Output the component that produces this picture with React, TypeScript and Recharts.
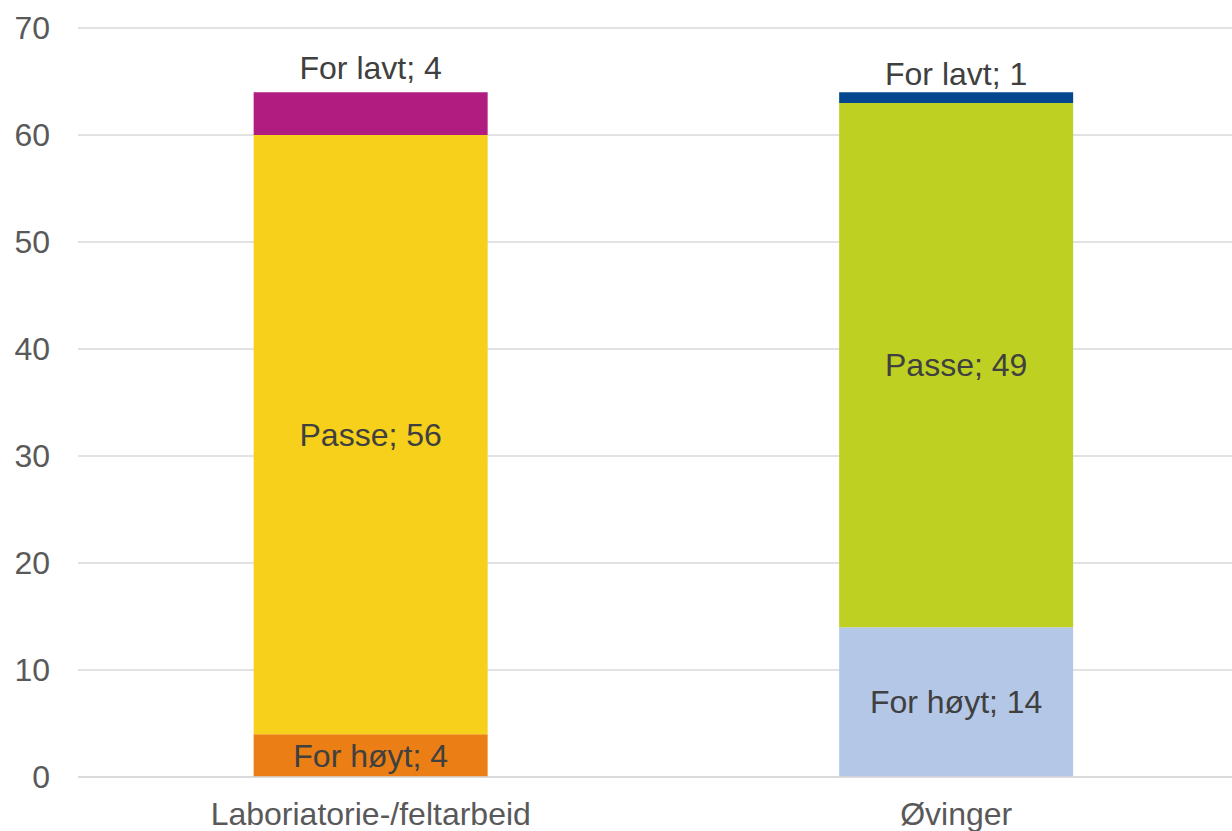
import { BarChart, Bar, XAxis, YAxis, CartesianGrid, Cell, LabelList } from 'recharts';

const categories = ['Laboriatorie-/feltarbeid', 'Øvinger'];
const seriesNames = ['For høyt', 'Passe', 'For lavt'];
const forHoyt = [4, 14];
const passe = [56, 49];
const forLavt = [4, 1];
const yTicks = [0, 10, 20, 30, 40, 50, 60, 70];

// colours per category, bottom to top
const colors = [
    ['#EB7F15', '#F6D01A', '#B01C80'],
    ['#B4C7E7', '#BED123', '#03478F'],
];
// how far above the bar top the "For lavt" label sits
const topLift = [24, 18];

const data = categories.map((name, i) => ({
    name,
    hoyt: forHoyt[i],
    passe: passe[i],
    lavt: forLavt[i],
}));

const FONT = '"Liberation Sans", Arial, sans-serif';
const LABEL_COLOR = '#404040';

const centerLabel = (series: string) => (props: any) => {
    const { x, y, width, height, value } = props;
    return (
        <text
            x={x + width / 2}
            y={y + height / 2}
            textAnchor="middle"
            dominantBaseline="central"
            fill={LABEL_COLOR}
            fontSize={32}
            fontFamily={FONT}
        >
            {`${series}; ${value}`}
        </text>
    );
};

const topLabel = (props: any) => {
    const { x, y, width, value, index } = props;
    return (
        <text
            x={x + width / 2}
            y={y - topLift[index]}
            textAnchor="middle"
            dominantBaseline="central"
            fill={LABEL_COLOR}
            fontSize={32}
            fontFamily={FONT}
        >
            {`${seriesNames[2]}; ${value}`}
        </text>
    );
};

export default function App() {
    return (
        <div style={{ position: 'absolute', left: 0, top: 0, width: 1232, height: 831, overflow: 'hidden', background: '#fff' }}>
            <BarChart
                width={1249}
                height={831}
                data={data}
                margin={{ top: 28, right: 0, left: 0, bottom: 0 }}
                barCategoryGap="30%"
                style={{ fontFamily: FONT }}
            >
                <CartesianGrid vertical={false} stroke="#D9D9D9" strokeWidth={1.5} />
                <XAxis
                    dataKey="name"
                    height={54}
                    tickLine={false}
                    axisLine={{ stroke: '#D9D9D9', strokeWidth: 1.5 }}
                    tickSize={0}
                    tickMargin={25}
                    tick={{ fill: '#595959', fontSize: 32, fontFamily: FONT }}
                />
                <YAxis
                    width={78}
                    domain={[0, 70]}
                    ticks={yTicks}
                    interval={0}
                    axisLine={false}
                    tickLine={false}
                    tickSize={0}
                    tickMargin={28}
                    tick={{ fill: '#595959', fontSize: 32, fontFamily: FONT }}
                />
                <Bar dataKey="hoyt" stackId="a" isAnimationActive={false}>
                    {data.map((_, i) => <Cell key={i} fill={colors[i][0]} />)}
                    <LabelList dataKey="hoyt" content={centerLabel(seriesNames[0])} />
                </Bar>
                <Bar dataKey="passe" stackId="a" isAnimationActive={false}>
                    {data.map((_, i) => <Cell key={i} fill={colors[i][1]} />)}
                    <LabelList dataKey="passe" content={centerLabel(seriesNames[1])} />
                </Bar>
                <Bar dataKey="lavt" stackId="a" isAnimationActive={false}>
                    {data.map((_, i) => <Cell key={i} fill={colors[i][2]} />)}
                    <LabelList dataKey="lavt" content={topLabel} />
                </Bar>
            </BarChart>
        </div>
    );
}
